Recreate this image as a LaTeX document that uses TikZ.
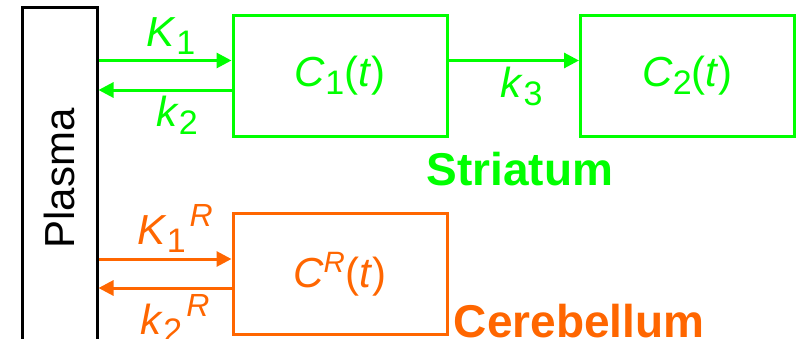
\documentclass[tikz,border=0pt]{standalone}
\usepackage{fontspec}
\setmainfont{Liberation Sans}
\usetikzlibrary{arrows.meta}
\definecolor{striagreen}{RGB}{0,255,0}
\definecolor{cereborange}{RGB}{255,102,0}
% rate constant subscripts sit low, as in the slide
\newcommand{\lowsub}[1]{\raisebox{-4pt}{\fontsize{17}{20}\selectfont #1}}
\newcommand{\regsup}[1]{\raisebox{9pt}{\fontsize{16}{19}\selectfont\itshape #1}}

\begin{document}
\begin{tikzpicture}[x=0.5pt,y=-0.5pt,
    box/.style={draw, line width=1.5pt, minimum width=107pt, minimum height=60.5pt,
      inner sep=0pt, font=\fontsize{21}{24}\selectfont},
    flow/.style={line width=1.5pt, -{Triangle[length=7.5pt,width=7.5pt]}},
    rate/.style={inner sep=2.5pt, font=\fontsize{21}{24}\selectfont},
    region/.style={inner sep=0pt, font=\fontsize{23}{26}\selectfont\bfseries}]
  %%%%% START %%%%%
  \useasboundingbox (0,0) rectangle (799,338);
  \clip (0,0) rectangle (799,338);

  % plasma compartment, runs off the bottom edge
  \node[draw, line width=1.5pt, minimum width=37.5pt, minimum height=171.5pt,
    inner sep=0pt, font=\fontsize{21}{24}\selectfont] (plasma) at (59.5,178.5)
    {\rotatebox{90}{Plasma}};

  % striatum
  \node[box, color=striagreen] (c1) at (340,75.5)
    {\textit{C}\lowsub{1}(\textit{t})};
  \node[box, color=striagreen] (c2) at (687.5,75.5)
    {\textit{C}\lowsub{2}(\textit{t})};
  \node[region, text=striagreen, anchor=base] (striatum) at (520,185) {Striatum};

  \coordinate (k1in) at ([yshift=7.5pt]c1.west);
  \coordinate (k2out) at ([yshift=-7.25pt]c1.west);
  \coordinate (k3out) at ([yshift=7.5pt]c1.east);

  \draw[flow, color=striagreen] (plasma.east |- k1in) -- node[rate, above, xshift=3pt]
    {\textit{K}\lowsub{1}} (k1in);
  \draw[flow, color=striagreen] (k2out) -- node[rate, below, xshift=6pt]
    {\textit{k}\lowsub{2}} (plasma.east |- k2out);
  \draw[flow, color=striagreen] (k3out) -- node[rate, below, xshift=4pt]
    {\textit{k}\lowsub{3}} (c2.west |- k3out);

  % cerebellum (reference region)
  \node[box, color=cereborange] (cr) at (340,274)
    {\textit{C}\textsuperscript{\textit{R}}(\textit{t})};
  \node[region, text=cereborange, anchor=base west] (cerebellum)
    at ([xshift=2.5pt,yshift=-0.5pt]cr.south east) {Cerebellum};

  \coordinate (k1rin) at ([yshift=7.5pt]cr.west);
  \coordinate (k2rout) at ([yshift=-7pt]cr.west);

  \draw[flow, color=cereborange] (plasma.east |- k1rin) -- node[rate, above, xshift=5pt]
    {\textit{K}\lowsub{1}\kern2pt\regsup{R}} (k1rin);
  \draw[flow, color=cereborange] (k2rout) -- node[rate, below, xshift=5pt]
    {\textit{k}\lowsub{2}\kern2pt\regsup{R}} (plasma.east |- k2rout);
  %%%%% END %%%%%
\end{tikzpicture}
\end{document}
